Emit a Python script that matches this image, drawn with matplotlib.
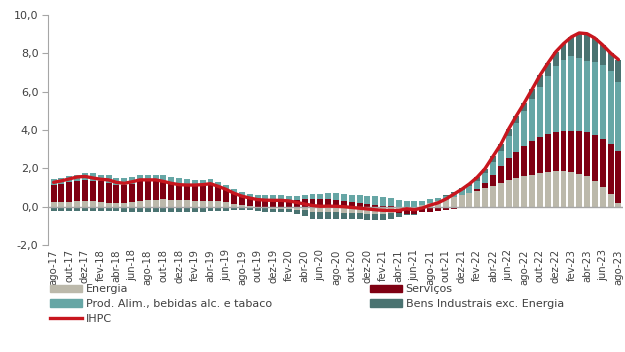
import matplotlib
matplotlib.use("Agg")
import matplotlib.pyplot as plt
import numpy as np
from matplotlib.patches import Patch
from matplotlib.lines import Line2D

plt.rcParams['font.family'] = ['DejaVu Sans']

# meses: ago-17 .. ago-23
month_abbr = ['jan', 'fev', 'mar', 'abr', 'mai', 'jun', 'jul', 'ago', 'set', 'out', 'nov', 'dez']
months = [f"{month_abbr[(7 + k) % 12]}-{17 + (7 + k) // 12}" for k in range(73)]

# contributos (p.p.)
energia = [0.24, 0.24, 0.26, 0.30, 0.30, 0.29, 0.23, 0.21, 0.19, 0.19,
           0.26, 0.30, 0.33, 0.36, 0.38, 0.36, 0.36, 0.35, 0.31, 0.31,
           0.30, 0.28, 0.22, 0.14, 0.07, 0.02, -0.03, -0.08, -0.12, -0.13,
           -0.13, -0.17, -0.19, -0.30, -0.30, -0.30, -0.30, -0.33, -0.33, -0.33,
           -0.38, -0.38, -0.36, -0.33, -0.22, -0.10, -0.02, 0.08, 0.19, 0.28,
           0.35, 0.50, 0.62, 0.70, 0.80, 0.95, 1.10, 1.25, 1.40, 1.52,
           1.60, 1.68, 1.74, 1.80, 1.84, 1.84, 1.82, 1.72, 1.58, 1.32,
           1.02, 0.67, 0.17]
servicos = [0.89, 0.96, 1.01, 1.04, 1.07, 1.06, 1.09, 1.04, 0.94, 0.94,
            0.94, 1.02, 1.04, 1.01, 0.92, 0.87, 0.80, 0.78, 0.79, 0.79,
            0.85, 0.78, 0.70, 0.56, 0.49, 0.42, 0.42, 0.40, 0.40, 0.37,
            0.36, 0.36, 0.40, 0.42, 0.42, 0.40, 0.36, 0.31, 0.24, 0.19,
            0.16, 0.10, 0.05, 0.01, -0.10, -0.28, -0.38, -0.30, -0.28, -0.24,
            -0.17, -0.13, -0.06, 0.02, 0.12, 0.30, 0.55, 0.85, 1.15, 1.35,
            1.55, 1.75, 1.92, 2.02, 2.08, 2.10, 2.13, 2.22, 2.32, 2.42,
            2.50, 2.62, 2.75]
alimentares = [0.31, 0.31, 0.34, 0.34, 0.37, 0.39, 0.36, 0.40, 0.36, 0.36,
               0.36, 0.35, 0.30, 0.31, 0.33, 0.33, 0.33, 0.31, 0.30, 0.30,
               0.29, 0.21, 0.20, 0.22, 0.20, 0.20, 0.20, 0.20, 0.20, 0.22,
               0.21, 0.22, 0.22, 0.24, 0.26, 0.31, 0.36, 0.37, 0.38, 0.40,
               0.41, 0.44, 0.45, 0.45, 0.33, 0.31, 0.28, 0.23, 0.20, 0.16,
               0.20, 0.22, 0.25, 0.35, 0.42, 0.50, 0.70, 0.83, 1.15, 1.48,
               1.83, 2.20, 2.60, 3.01, 3.41, 3.72, 3.91, 3.83, 3.73, 3.79,
               3.87, 3.78, 3.58]
bens_ind = [-0.20, -0.20, -0.20, -0.20, -0.22, -0.22, -0.22, -0.24, -0.25, -0.26,
            -0.27, -0.28, -0.28, -0.30, -0.30, -0.30, -0.30, -0.30, -0.28, -0.26,
            -0.24, -0.22, -0.20, -0.18, -0.17, -0.18, -0.22, -0.20, -0.18, -0.14,
            -0.16, -0.22, -0.28, -0.32, -0.34, -0.34, -0.36, -0.33, -0.33, -0.33,
            -0.31, -0.32, -0.33, -0.33, -0.21, -0.05, -0.03, 0.00, 0.00, 0.02,
            0.04, 0.07, 0.08, 0.12, 0.20, 0.24, 0.27, 0.32, 0.35, 0.40,
            0.44, 0.50, 0.60, 0.66, 0.75, 0.85, 1.00, 1.30, 1.40, 1.27,
            1.05, 0.95, 1.18]
ihpc = [1.27, 1.35, 1.45, 1.55, 1.58, 1.50, 1.43, 1.40, 1.27, 1.22,
        1.30, 1.40, 1.40, 1.40, 1.32, 1.22, 1.15, 1.13, 1.13, 1.15,
        1.20, 1.06, 0.90, 0.70, 0.55, 0.45, 0.37, 0.34, 0.33, 0.33,
        0.30, 0.22, 0.14, 0.06, 0.02, 0.03, 0.02, 0.00, -0.04, -0.08,
        -0.12, -0.16, -0.19, -0.20, -0.20, -0.11, -0.16, -0.07, 0.08, 0.20,
        0.40, 0.65, 0.90, 1.19, 1.54, 1.99, 2.62, 3.25, 4.05, 4.75,
        5.42, 6.13, 6.86, 7.49, 8.08, 8.51, 8.86, 9.07, 9.03, 8.80,
        8.44, 8.02, 7.68]

series = [
    ("Energia", energia, "#bcb9ab"),
    ("Serviços", servicos, "#7f0012"),
    ("Prod. Alim., bebidas alc. e tabaco", alimentares, "#66a6a5"),
    ("Bens Industrais exc. Energia", bens_ind, "#4a7371"),
]
line_color = "#c8161e"
text_color = "#404040"

fig = plt.figure(figsize=(6.25, 3.52), dpi=100)
ax = fig.add_axes([0.077, 0.304, 0.920, 0.653])

x = np.arange(len(months))
pos_base = np.zeros(len(x))
neg_base = np.zeros(len(x))
for name, vals, col in series:
    v = np.array(vals)
    bottom = np.where(v >= 0, pos_base, neg_base)
    ax.bar(x, v, bottom=bottom, width=0.76, color=col, linewidth=0, zorder=2)
    pos_base = pos_base + np.where(v >= 0, v, 0)
    neg_base = neg_base + np.where(v < 0, v, 0)

ax.axhline(0, color="#a6a6a6", linewidth=1.0, zorder=3)
ax.plot(x, ihpc, color=line_color, linewidth=2.4, solid_capstyle="round", zorder=4)

ax.set_xlim(-0.7, len(x) - 0.4)
ax.set_ylim(-2, 10)
yt = np.arange(-2, 11, 2)
ax.set_yticks(yt)
ax.set_yticklabels([f"{t:.1f}".replace(".", ",") for t in yt], fontsize=8, color=text_color)
ax.set_xticks(x[::2])
ax.set_xticklabels(months[::2], rotation=90, fontsize=7.3, color=text_color)
ax.tick_params(axis="x", length=0, pad=3)
ax.tick_params(axis="y", length=4, color="#a6a6a6", direction="out", pad=3)

for s in ["top", "right", "bottom"]:
    ax.spines[s].set_visible(False)
ax.spines["left"].set_color("#a6a6a6")

handles = [
    Patch(color=series[0][2], label=series[0][0]),
    Patch(color=series[2][2], label=series[2][0]),
    Line2D([0], [0], color=line_color, linewidth=2.4, label="IHPC"),
    Patch(color=series[1][2], label=series[1][0]),
    Patch(color=series[3][2], label=series[3][0]),
]
fig.legend(handles=handles, ncol=2, loc="upper left", bbox_to_anchor=(0.08, 0.192),
           frameon=False, fontsize=8, handlelength=2.9, handletextpad=0.3,
           labelspacing=0.42, columnspacing=8.85, borderaxespad=0, borderpad=0,
           labelcolor=text_color)

fig.savefig("out.png", dpi=100)
